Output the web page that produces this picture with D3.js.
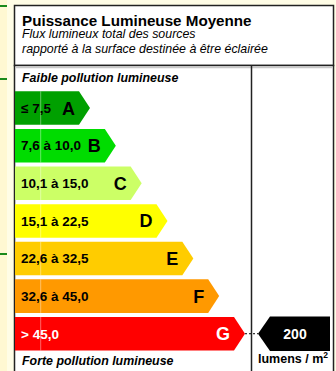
<!DOCTYPE html>
<html>
<head>
<meta charset="utf-8">
<script src="https://cdn.jsdelivr.net/npm/d3@7"></script>
<style>
  html, body { margin: 0; padding: 0; background: #fffde6; }
  svg { display: block; font-family: "Liberation Sans", Arial, sans-serif; }
</style>
</head>
<body>
<svg id="chart" width="336" height="371"></svg>
<script>
// Energy-label style classes for average luminous power
const classes = ["A", "B", "C", "D", "E", "F", "G"];
const rangeLabels = ["≤ 7,5", "7,6 à 10,0", "10,1 à 15,0", "15,1 à 22,5", "22,6 à 32,5", "32,6 à 45,0", "> 45,0"];
const upperBounds = [7.5, 10.0, 15.0, 22.5, 32.5, 45.0, Infinity];
const classColors = ["#00a000", "#00dc00", "#ccff66", "#ffff00", "#ffcc00", "#ff9900", "#ff0000"];
const measuredValue = 200;
const unitLabel = "lumens / m";

const title = "Puissance Lumineuse Moyenne";
const subtitleLines = ["Flux lumineux total des sources", "rapporté à la surface destinée à être éclairée"];
const topNote = "Faible pollution lumineuse";
const bottomNote = "Forte pollution lumineuse";

const svg = d3.select("#chart");
const W = 336, H = 371;

// page background with a slightly warmer left margin strip
svg.append("rect").attr("width", W).attr("height", H).attr("fill", "#fffde6");
svg.append("rect").attr("width", 7).attr("height", H).attr("fill", "#fff8d2");

// small green guide ticks in the margin
[6, 79, 254].forEach(y => {
  svg.append("line").attr("x1", 0).attr("x2", 7).attr("y1", y).attr("y2", y)
    .attr("stroke", "#1a8a1a").attr("stroke-width", 2);
});

const boxL = 14.5, boxR = 333.5, boxTop = 5.5, headBottom = 65.5, divX = 251.5;

// header box
svg.append("rect").attr("x", boxL).attr("y", boxTop).attr("width", boxR - boxL).attr("height", headBottom - boxTop)
  .attr("fill", "#fff").attr("stroke", "#222").attr("stroke-width", 1.5);
// scale box
svg.append("rect").attr("x", boxL).attr("y", headBottom).attr("width", boxR - boxL).attr("height", H + 10 - headBottom)
  .attr("fill", "#fff").attr("stroke", "#222").attr("stroke-width", 1.5);
svg.append("line").attr("x1", boxL + 1).attr("x2", boxR - 1).attr("y1", headBottom + 2).attr("y2", headBottom + 2)
  .attr("stroke", "#c8c8c8").attr("stroke-width", 1.5);
svg.append("line").attr("x1", divX).attr("x2", divX).attr("y1", headBottom).attr("y2", H + 5)
  .attr("stroke", "#222").attr("stroke-width", 1.5);

// header texts
svg.append("text").attr("x", 22).attr("y", 25.5).attr("font-size", 15.2).attr("font-weight", "bold")
  .attr("fill", "#000").text(title);
svg.selectAll("text.sub").data(subtitleLines).join("text").attr("class", "sub")
  .attr("x", 22).attr("y", (d, i) => 38.3 + i * 15)
  .attr("font-size", 12.4).attr("font-style", "italic").attr("fill", "#000").text(d => d);

svg.append("text").attr("x", 22).attr("y", 82).attr("font-size", 12.4).attr("font-weight", "bold")
  .attr("font-style", "italic").attr("fill", "#000").text(topNote);
svg.append("text").attr("x", 22).attr("y", 365).attr("font-size", 12.4).attr("font-weight", "bold")
  .attr("font-style", "italic").attr("fill", "#000").text(bottomNote);

// scales: rows by class, arrow tip position by class rank
const y = d3.scaleBand().domain(classes).range([91.3, 350.5]).paddingInner(0.108).paddingOuter(0);
const tipX = d3.scaleLinear().domain([0, classes.length - 1]).range([90, 245]);
const barX0 = 15, arrowDepth = 11;

const rows = classes.map((c, i) => ({ cls: c, label: rangeLabels[i], color: classColors[i], i }));

const arrowPath = (x0, tip, top, h) => {
  const flat = tip - arrowDepth;
  return `M${x0},${top}H${flat}L${tip},${top + h / 2}L${flat},${top + h}H${x0}Z`;
};

const g = svg.append("g");
const bar = g.selectAll("g.row").data(rows).join("g").attr("class", "row");

bar.append("path")
  .attr("d", d => arrowPath(barX0, tipX(d.i), y(d.cls), y.bandwidth()))
  .attr("fill", d => d.color);

// faint light seam crossing the bars
bar.append("line")
  .attr("x1", 40.7).attr("x2", 40.7)
  .attr("y1", d => y(d.cls)).attr("y2", d => y(d.cls) + y.bandwidth())
  .attr("stroke", "#fff").attr("stroke-opacity", 0.4).attr("stroke-width", 1);

bar.append("text")
  .attr("x", 21).attr("y", d => y(d.cls) + y.bandwidth() / 2 + 4.8)
  .attr("font-size", 13.5).attr("font-weight", "bold")
  .attr("fill", d => d.cls === "G" ? "#fff" : "#000")
  .text(d => d.label);

bar.append("text")
  .attr("x", d => tipX(d.i) - 15).attr("y", d => y(d.cls) + y.bandwidth() / 2 + 6.5)
  .attr("text-anchor", "end").attr("font-size", 18).attr("font-weight", "bold")
  .attr("fill", d => d.cls === "G" ? "#fff" : "#000")
  .text(d => d.cls);

// class reached by the measured value
const idx = upperBounds.findIndex(b => measuredValue <= b);
const hitClass = classes[idx];
const cy = y(hitClass) + y.bandwidth() / 2;
const markTip = 258, markFlat = 270, markRight = 330;
const mh = y.bandwidth() + 1;

svg.append("line").attr("x1", tipX(idx)).attr("x2", markTip).attr("y1", cy).attr("y2", cy)
  .attr("stroke", "#000").attr("stroke-width", 1).attr("stroke-dasharray", "2,2");

svg.append("path")
  .attr("d", `M${markTip},${cy}L${markFlat},${cy - mh / 2}H${markRight}V${cy + mh / 2}H${markFlat}Z`)
  .attr("fill", "#000");
svg.append("text").attr("x", 295).attr("y", cy + 5.5).attr("text-anchor", "middle")
  .attr("font-size", 14).attr("font-weight", "bold").attr("fill", "#fff").text(measuredValue);

const unit = svg.append("text").attr("x", 258).attr("y", 363.3).attr("font-size", 12.5)
  .attr("font-weight", "bold").attr("fill", "#000");
unit.append("tspan").text(unitLabel);
unit.append("tspan").attr("dy", -5).attr("font-size", 8.5).text("2");
</script>
</body>
</html>
